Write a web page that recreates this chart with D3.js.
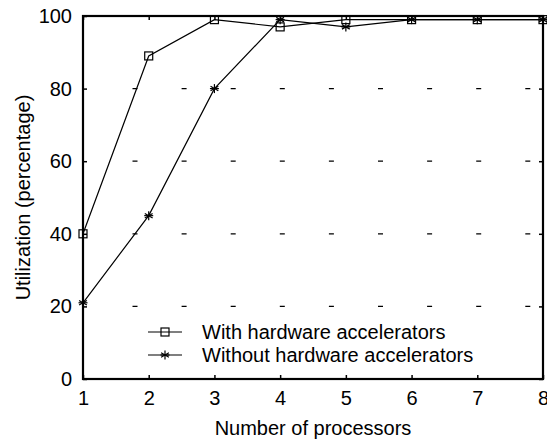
<!DOCTYPE html>
<html><head><meta charset="utf-8">
<script src="https://cdn.jsdelivr.net/npm/d3@7"></script>
<style>body{margin:0;background:#fff}text{font-family:"Liberation Sans",Arial,sans-serif;fill:#000}</style>
</head><body>
<script>
const processors = [1,2,3,4,5,6,7,8];
const withAccel = [40,89,99,97,99,99,99,99];
const withoutAccel = [21,45,80,99,97,99,99,99];
const yTicks = [0,20,40,60,80,100];
const xTicks = [1,2,3,4,5,6,7,8];
const seriesNames = ["With hardware accelerators","Without hardware accelerators"];

const W=547,H=441;
const L=83,R=543,T=16,B=379;
const FS=20;
const svg=d3.select("body").append("svg").attr("width",W).attr("height",H);
const x=d3.scaleLinear().domain([1,8]).range([L,R]);
const y=d3.scaleLinear().domain([0,100]).range([B,T]);

// grid (dashed horizontal)
yTicks.filter(v=>v>0&&v<100).forEach(v=>{
  svg.append("line").attr("x1",L+49.5).attr("x2",R).attr("y1",y(v)).attr("y2",y(v))
    .attr("stroke","#000").attr("stroke-width",1.2).attr("stroke-dasharray","5,44.1");
});

// axes
const xAxis=d3.axisBottom(x).tickValues(xTicks).tickSize(-4).tickPadding(12).tickFormat(d3.format("d"));
svg.append("g").attr("transform",`translate(0,${B})`).call(xAxis);
const yAxis=d3.axisLeft(y).tickValues(yTicks).tickSize(-4).tickPadding(11);
svg.append("g").attr("transform",`translate(${L},0)`).call(yAxis);
const xTop=d3.axisTop(x).tickValues(xTicks).tickSize(-4).tickFormat("");
svg.append("g").attr("transform",`translate(0,${T})`).call(xTop);
const yRight=d3.axisRight(y).tickValues(yTicks).tickSize(-4).tickFormat("");
svg.append("g").attr("transform",`translate(${R},0)`).call(yRight);
svg.selectAll(".domain").remove();
svg.selectAll(".tick line").attr("stroke","#000").attr("stroke-width",1.5);
svg.selectAll(".tick text").attr("font-size",FS).attr("font-family","Liberation Sans, Arial, sans-serif");
svg.append("rect").attr("x",L).attr("y",T).attr("width",R-L).attr("height",B-T)
  .attr("fill","none").attr("stroke","#000").attr("stroke-width",2.2);

// axis labels
svg.append("text").attr("x",313).attr("y",435).attr("text-anchor","middle").attr("font-size",FS).text("Number of processors");
svg.append("text").attr("transform",`translate(30,${(T+B)/2}) rotate(-90)`).attr("text-anchor","middle").attr("font-size",FS).text("Utilization (percentage)");

const line=d3.line().x((d,i)=>x(processors[i])).y(d=>y(d));
function square(g,cx,cy){g.append("rect").attr("x",cx-4).attr("y",cy-4).attr("width",8).attr("height",8).attr("fill","none").attr("stroke","#000").attr("stroke-width",1.2);}
function star(g,cx,cy){
  const r=4.5;
  [0,60,120].forEach(a=>{const rad=a*Math.PI/180;
    g.append("line").attr("x1",cx-r*Math.sin(rad)).attr("y1",cy-r*Math.cos(rad)).attr("x2",cx+r*Math.sin(rad)).attr("y2",cy+r*Math.cos(rad)).attr("stroke","#000").attr("stroke-width",1.2);});
  g.append("line").attr("x1",cx-r).attr("x2",cx+r).attr("y1",cy).attr("y2",cy).attr("stroke","#000").attr("stroke-width",1.2);
}
const plot=svg.append("g");
plot.append("path").datum(withAccel).attr("d",line).attr("fill","none").attr("stroke","#000").attr("stroke-width",1.2);
plot.append("path").datum(withoutAccel).attr("d",line).attr("fill","none").attr("stroke","#000").attr("stroke-width",1.2);
withAccel.forEach((v,i)=>square(plot,x(processors[i]),y(v)));
withoutAccel.forEach((v,i)=>star(plot,x(processors[i]),y(v)));

// legend
const leg=svg.append("g");
[0,1].forEach(i=>{
  const ly=332+i*23;
  leg.append("line").attr("x1",148).attr("x2",182).attr("y1",ly).attr("y2",ly).attr("stroke","#000").attr("stroke-width",1.2);
  if(i===0) square(leg,165,ly); else star(leg,165,ly);
  leg.append("text").attr("x",202).attr("y",ly+7).attr("font-size",FS).text(seriesNames[i]);
});
</script>
</body></html>
